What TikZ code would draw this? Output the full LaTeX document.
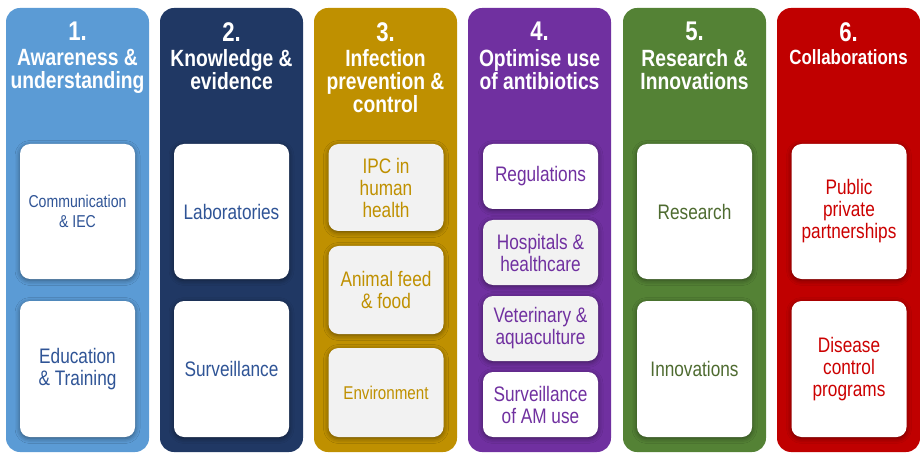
\documentclass[tikz,border=0pt]{standalone}
\usepackage{fontspec}
\setmainfont{Liberation Sans}[FakeStretch=0.82]
\usetikzlibrary{shadows.blur}

\definecolor{awareblue}{HTML}{5B9BD5}
\definecolor{knownavy}{HTML}{203864}
\definecolor{ipcgold}{HTML}{BF9000}
\definecolor{amupurple}{HTML}{7030A0}
\definecolor{resgreen}{HTML}{548235}
\definecolor{colred}{HTML}{C00000}
\definecolor{cardblue}{HTML}{2F5496}
\definecolor{cardgreen}{HTML}{4E6B30}
\definecolor{cardred}{HTML}{CC0000}
\definecolor{cardgrey}{HTML}{F2F2F2}

\tikzset{
  pillar/.style={rounded corners=14pt, minimum width=143pt, minimum height=444pt, inner sep=0pt},
  pillarno/.style={text=white, anchor=north, inner sep=0pt, font=\bfseries\fontsize{27}{29}\selectfont},
  pillarhead/.style={text=white, anchor=north, inner sep=0pt, align=center, font=\bfseries\fontsize{23.5}{23}\selectfont},
  card/.style={fill=white, rounded corners=10pt, minimum width=115pt, inner sep=2pt, align=center,
    font=\fontsize{21}{22}\selectfont,
    blur shadow={shadow xshift=0pt, shadow yshift=-1.5pt, shadow blur radius=5pt, shadow opacity=45}},
  greycard/.style={card, fill=cardgrey}
}

\begin{document}
\begin{tikzpicture}[x=1pt,y=-1pt]
  \useasboundingbox (0,0) rectangle (920,454);

  % pillars
  \node[pillar, fill=awareblue] (aware) at (77.5,230) {};
  \node[pillar, fill=knownavy] (know) at (231.5,230) {};
  \node[pillar, fill=ipcgold] (ipc) at (385.5,230) {};
  \node[pillar, fill=amupurple] (optim) at (539.5,230) {};
  \node[pillar, fill=resgreen] (resinn) at (694.5,230) {};
  \node[pillar, fill=colred] (collab) at (848.5,230) {};

  % headings
  \node[pillarno] (awareno) at (77.5,22) {1.};
  \node[pillarhead] (awarehead) at (77.5,49.5) {Awareness \&\\understanding};
  \node[pillarno] (knowno) at (231.5,22) {2.};
  \node[pillarhead] (knowhead) at (231.5,49.5) {Knowledge \&\\evidence};
  \node[pillarno] (ipcno) at (385.5,22) {3.};
  \node[pillarhead] (ipchead) at (385.5,49.5) {Infection\\prevention \&\\control};
  \node[pillarno] (optimno) at (539.5,22) {4.};
  \node[pillarhead] (optimhead) at (539.5,49.5) {Optimise use\\of antibiotics};
  \node[pillarno] (resinnno) at (694.5,22) {5.};
  \node[pillarhead] (resinnhead) at (694.5,49.5) {Research \&\\Innovations};
  \node[pillarno] (collabno) at (848.5,22) {6.};
  \node[pillarhead, font=\bfseries\fontsize{20.6}{22}\selectfont] (collabhead) at (848.5,49) {Collaborations};

  % cards
  \node[card, minimum height=135pt, text=cardblue, font=\fontsize{17.2}{20}\selectfont] (comm) at (77.5,211.5) {Communication\\\& IEC};
  \node[card, minimum height=136pt, text=cardblue] (edu) at (77.5,369) {Education\\\& Training};

  \node[card, minimum height=135pt, text=cardblue] (labs) at (231.5,211.5) {Laboratories};
  \node[card, minimum height=136pt, text=cardblue] (surv) at (231.5,369) {Surveillance};

  \node[greycard, minimum height=87pt, text=ipcgold] (human) at (386,187.5) {IPC in\\human\\health};
  \node[greycard, minimum height=88pt, text=ipcgold] (feed) at (386,290) {Animal feed\\\& food};
  \node[greycard, minimum height=89pt, text=ipcgold, font=\fontsize{18.5}{20}\selectfont] (env) at (386,392.5) {Environment};

  \node[card, minimum height=65pt, text=amupurple] (regs) at (540.5,176.5) {Regulations};
  \node[greycard, minimum height=65pt, text=amupurple] (hosp) at (540.5,252.5) {Hospitals \&\\healthcare};
  \node[greycard, minimum height=65pt, text=amupurple] (vet) at (540.5,328.5) {Veterinary \&\\aquaculture};
  \node[card, minimum height=65pt, text=amupurple] (amuse) at (540.5,404.5) {Surveillance\\of AM use};

  \node[card, minimum height=135pt, text=cardgreen] (research) at (694.5,211.5) {Research};
  \node[card, minimum height=136pt, text=cardgreen] (innov) at (694.5,369) {Innovations};

  \node[card, minimum height=135pt, text=cardred] (ppp) at (849,211.5) {Public\\private\\partnerships};
  \node[card, minimum height=136pt, text=cardred] (dcp) at (849,369) {Disease\\control\\programs};
\end{tikzpicture}
\end{document}
